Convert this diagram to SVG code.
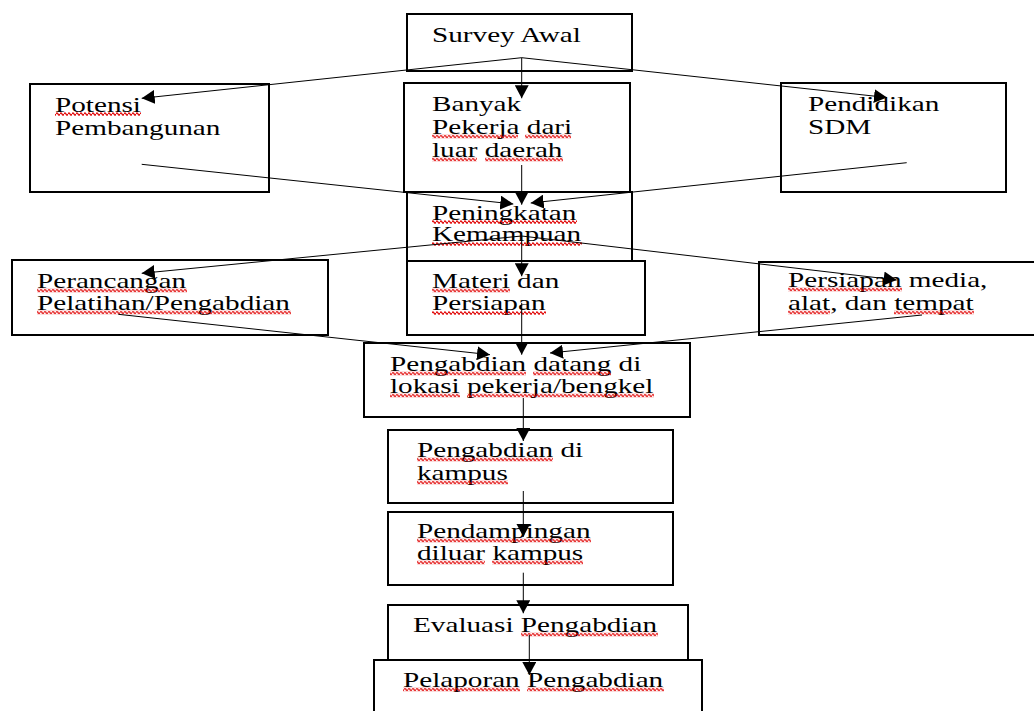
<svg xmlns="http://www.w3.org/2000/svg" width="1034" height="711" viewBox="0 0 1034 711">
<style>
.box{fill:#fff;stroke:#000;stroke-width:2}
.t{font-family:"Liberation Serif","Times New Roman",serif;font-size:20px;fill:#000}
.c{stroke:#000;stroke-width:1;fill:none;marker-end:url(#ah)}
.sq{fill:url(#sq)}
</style>
<defs>
<marker id="ah" markerUnits="userSpaceOnUse" markerWidth="13" markerHeight="14" viewBox="0 0 13 14" refX="13" refY="7" orient="auto">
<path d="M0,0 L13,7 L0,14 z" fill="#000"/>
</marker>
<pattern id="sq" x="0" y="0" width="4" height="4" patternUnits="userSpaceOnUse">
<path d="M0,2 Q1,-0.4 2,2 T4,2" fill="none" stroke="#e00000" stroke-width="1.3"/>
</pattern>
</defs>
<rect width="1034" height="711" fill="#fff"/>

<g id="survey">
<rect class="box" x="407" y="14" width="225" height="57"/>
<text class="t" transform="translate(432,42) scale(1.46,1)">Survey Awal</text>
</g>

<g id="potensi">
<rect class="box" x="30" y="84" width="239" height="108"/>
<text class="t" transform="translate(55,111.5) scale(1.46,1)"><tspan x="0" y="0">Potensi</tspan><tspan x="0" y="23.5">Pembangunan</tspan></text>
<rect class="sq" x="55" y="0" width="86" height="4" transform="translate(0,112)"/>
</g>

<g id="banyak">
<rect class="box" x="404" y="83" width="226" height="109"/>
<text class="t" transform="translate(432,111) scale(1.46,1)"><tspan x="0" y="0">Banyak</tspan><tspan x="0" y="23">Pekerja dari</tspan><tspan x="0" y="46">luar daerah</tspan></text>
<rect class="sq" x="432" y="0" width="86" height="4" transform="translate(0,134.5)"/>
<rect class="sq" x="525" y="0" width="46" height="4" transform="translate(0,134.5)"/>
<rect class="sq" x="432" y="0" width="45" height="4" transform="translate(0,157.5)"/>
<rect class="sq" x="485" y="0" width="78" height="4" transform="translate(0,157.5)"/>
</g>

<g id="pendidikan">
<rect class="box" x="781" y="83" width="225" height="109"/>
<text class="t" transform="translate(808,111) scale(1.46,1)"><tspan x="0" y="0">Pendidikan</tspan><tspan x="0" y="23.5">SDM</tspan></text>
</g>

<g id="peningkatan">
<rect class="box" x="407" y="192" width="225" height="69"/>
<text class="t" transform="translate(432,219.5) scale(1.46,1)"><tspan x="0" y="0">Peningkatan</tspan><tspan x="0" y="22">Kemampuan</tspan></text>
<rect class="sq" x="432" y="0" width="145" height="4" transform="translate(0,220)"/>
<rect class="sq" x="432" y="0" width="150" height="4" transform="translate(0,242)"/>
</g>

<g id="perancangan">
<rect class="box" x="12" y="260" width="316" height="75"/>
<text class="t" transform="translate(37,288) scale(1.46,1)"><tspan x="0" y="0">Perancangan</tspan><tspan x="0" y="22">Pelatihan/Pengabdian</tspan></text>
<rect class="sq" x="37" y="0" width="150" height="4" transform="translate(0,288.5)"/>
<rect class="sq" x="37" y="0" width="254" height="4" transform="translate(0,310.5)"/>
</g>

<g id="materi">
<rect class="box" x="407" y="261" width="238" height="74"/>
<text class="t" transform="translate(432,288) scale(1.46,1)"><tspan x="0" y="0">Materi dan</tspan><tspan x="0" y="22.5">Persiapan</tspan></text>
<rect class="sq" x="432" y="0" width="78" height="4" transform="translate(0,288.5)"/>
<rect class="sq" x="432" y="0" width="114" height="4" transform="translate(0,311)"/>
</g>

<g id="persiapan">
<rect class="box" x="759" y="262" width="290" height="73"/>
<text class="t" transform="translate(788,287) scale(1.46,1)"><tspan x="0" y="0">Persiapan media,</tspan><tspan x="0" y="23">alat, dan tempat</tspan></text>
<rect class="sq" x="788" y="0" width="114" height="4" transform="translate(0,287.5)"/>
<rect class="sq" x="788" y="0" width="42" height="4" transform="translate(0,310.5)"/>
<rect class="sq" x="894" y="0" width="80" height="4" transform="translate(0,310.5)"/>
</g>

<g id="datang">
<rect class="box" x="364" y="343" width="326" height="74"/>
<text class="t" transform="translate(390,371) scale(1.46,1)"><tspan x="0" y="0">Pengabdian datang di</tspan><tspan x="0" y="22">lokasi pekerja/bengkel</tspan></text>
<rect class="sq" x="390" y="0" width="136" height="4" transform="translate(0,371.5)"/>
<rect class="sq" x="533" y="0" width="78" height="4" transform="translate(0,371.5)"/>
<rect class="sq" x="390" y="0" width="70" height="4" transform="translate(0,393.5)"/>
<rect class="sq" x="467" y="0" width="187" height="4" transform="translate(0,393.5)"/>
</g>

<g id="kampus">
<rect class="box" x="388" y="430" width="285" height="73"/>
<text class="t" transform="translate(417,457) scale(1.46,1)"><tspan x="0" y="0">Pengabdian di</tspan><tspan x="0" y="23">kampus</tspan></text>
<rect class="sq" x="417" y="0" width="136" height="4" transform="translate(0,457.5)"/>
<rect class="sq" x="417" y="0" width="91" height="4" transform="translate(0,480.5)"/>
</g>

<g id="pendampingan">
<rect class="box" x="388" y="512" width="285" height="73"/>
<text class="t" transform="translate(417,538) scale(1.46,1)"><tspan x="0" y="0">Pendampingan</tspan><tspan x="0" y="22">diluar kampus</tspan></text>
<rect class="sq" x="417" y="0" width="174" height="4" transform="translate(0,538.5)"/>
<rect class="sq" x="417" y="0" width="68" height="4" transform="translate(0,560.5)"/>
<rect class="sq" x="492" y="0" width="91" height="4" transform="translate(0,560.5)"/>
</g>

<g id="evaluasi">
<rect class="box" x="388" y="605" width="300" height="55"/>
<text class="t" transform="translate(413,632) scale(1.46,1)">Evaluasi Pengabdian</text>
<rect class="sq" x="521" y="0" width="137" height="4" transform="translate(0,632.5)"/>
</g>

<g id="pelaporan">
<rect class="box" x="374" y="660" width="328" height="80"/>
<text class="t" transform="translate(403,687) scale(1.46,1)">Pelaporan Pengabdian</text>
<rect class="sq" x="403" y="0" width="117" height="4" transform="translate(0,687.5)"/>
<rect class="sq" x="527" y="0" width="137" height="4" transform="translate(0,687.5)"/>
</g>

<g id="connectors">
<path class="c" d="M521.7,57.7 L141.7,98.3"/>
<path class="c" d="M521.7,57.7 L521.7,98.3"/>
<path class="c" d="M521.7,57.7 L887,97.5"/>
<path class="c" d="M141.7,164.3 L513.3,204"/>
<path class="c" d="M521.7,165 L521.7,204.7"/>
<path class="c" d="M906.7,162.7 L530.7,203"/>
<path class="c" d="M521.7,236 L141.7,273.3"/>
<path class="c" d="M521.7,236 L521.7,276.3"/>
<path class="c" d="M521.7,236 L896.7,280"/>
<path class="c" d="M521.7,303 L521.7,354.7"/>
<path class="c" d="M118.3,314.3 L490,354.7"/>
<path class="c" d="M922,315 L550,353"/>
<path class="c" d="M523.3,398 L523.3,441"/>
<path class="c" d="M523.3,491 L523.3,536.7"/>
<path class="c" d="M523.3,572.7 L523.3,613.3"/>
<path class="c" d="M529.3,635 L529.3,675"/>
</g>
</svg>
